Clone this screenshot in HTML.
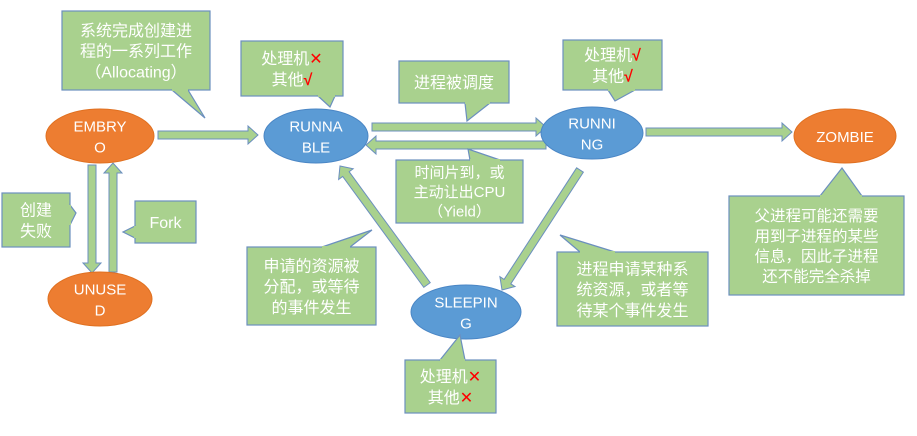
<!DOCTYPE html>
<html><head><meta charset="utf-8">
<style>
html,body{margin:0;padding:0;background:#fff;}
svg{display:block;}
text{font-family:"Liberation Sans","Noto Sans CJK SC",sans-serif;fill:#fff;}
</style></head>
<body>
<svg id="d" width="917" height="436" viewBox="0 0 917 436">
</svg>
<script>
const svg=document.getElementById('d');
const NS='http://www.w3.org/2000/svg';
const G='#a9d18e', B='#6b8fbf';
function el(tag,attrs,parent){const e=document.createElementNS(NS,tag);for(const k in attrs)e.setAttribute(k,attrs[k]);(parent||svg).appendChild(e);return e;}
function arrow(name,x1,y1,x2,y2){
  const dx=x2-x1,dy=y2-y1,L=Math.hypot(dx,dy),ux=dx/L,uy=dy/L,px=-uy,py=ux;
  const w=4,hw=9,hl=10;
  const bx=x2-ux*hl,by=y2-uy*hl;
  const pts=[[x1+px*w,y1+py*w],[bx+px*w,by+py*w],[bx+px*hw,by+py*hw],[x2,y2],[bx-px*hw,by-py*hw],[bx-px*w,by-py*w],[x1-px*w,y1-py*w]];
  const p=el('polygon',{points:pts.map(a=>a.join(',')).join(' '),fill:G,stroke:B,'stroke-width':1});
  
  
}
function state(name,cx,cy,rx,ry,color,lines){
  const g=el('g',{});
  
  
  el('ellipse',{cx,cy,rx,ry,fill:color,stroke:color==='#ed7d31'?'#e07020':'#4a86c5','stroke-width':1},g);
  lines.forEach((t,i)=>{const tx=el('text',{x:cx,y:cy+(i-(lines.length-1)/2)*21+6,'text-anchor':'middle','font-size':15},g);tx.textContent=t;});
}
function callout(name,x,y,w,h,tail,lines,fs){
  const g=el('g',{});
  
  
  el('rect',{x,y,width:w,height:h,fill:G,stroke:B,'stroke-width':1.2},g);
  el('polygon',{points:tail.map(a=>a.join(',')).join(' '),fill:G,stroke:B,'stroke-width':1.2},g);
  const a=tail[0],c=tail[2];
  el('line',{x1:a[0],y1:a[1],x2:c[0],y2:c[1],stroke:G,'stroke-width':2},g);
  const lh=fs*1.3;
  lines.forEach((t,i)=>{const tx=el('text',{x:x+w/2,y:y+h/2+(i-(lines.length-1)/2)*lh+fs*0.38,'text-anchor':'middle','font-size':fs},g);tx.innerHTML=t;});
}
arrow('arrow-embryo-runnable',158,135,258,135);
arrow('arrow-runnable-running',372,127,546,127);
arrow('arrow-running-runnable',546,145,366,145);
arrow('arrow-running-zombie',646,132,792,132);
arrow('arrow-embryo-unused',92,165,92,273);
arrow('arrow-unused-embryo',113,272,113,163);
arrow('arrow-running-sleeping',580,170,502,290);
arrow('arrow-sleeping-runnable',427,285,340,166);
state('embryo-state',100,136,54,27,'#ed7d31',['EMBRY','O']);
state('runnable-state',316,136,52,27,'#5b9bd5',['RUNNA','BLE']);
state('running-state',592,133,51,26,'#5b9bd5',['RUNNI','NG']);
state('zombie-state',845,136,51,27,'#ed7d31',['ZOMBIE']);
state('unused-state',100,299,52,27,'#ed7d31',['UNUSE','D']);
state('sleeping-state',466,312,55,27,'#5b9bd5',['SLEEPIN','G']);
const X='<tspan style="fill:#ff0000">✕</tspan>', V='<tspan style="fill:#ff0000;font-weight:bold">√</tspan>';
callout('allocating-callout',62,11,148,79,[[172,90],[205,118],[188,90]],['系统完成创建进','程的一系列工作','（Allocating）'],16);
callout('runnable-resource-callout',241,41,102,55,[[318,96],[330,107],[335,96]],['处理机'+X,'其他'+V],16);
callout('scheduled-callout',399,61,110,42,[[465,103],[467,121],[490,103]],['进程被调度'],16);
callout('running-resource-callout',563,40,99,50,[[608,90],[615,101],[635,90]],['处理机'+V,'其他'+V],16);
callout('yield-callout',396,160,127,63,[[470,160],[468,149],[500,160]],['时间片到，或','主动让出CPU','（Yield）'],15);
callout('zombie-callout',729,196,175,99,[[820,196],[842,168],[862,196]],['父进程可能还需要','用到子进程的某些','信息，因此子进程','还不能完全杀掉'],15.5);
callout('create-fail-callout',2,193,68,54,[[70,205],[76,213],[70,225]],['创建','失败'],16);
callout('fork-callout',135,201,61,42,[[135,226],[123,232],[135,238]],['Fork'],16);
callout('resource-granted-callout',247,247,129,78,[[322,247],[372,230],[350,247]],['申请的资源被','分配，或等待','的事件发生'],16);
callout('resource-request-callout',557,252,151,74,[[580,252],[560,235],[615,252]],['进程申请某种系','统资源，或者等','待某个事件发生'],16);
callout('sleeping-resource-callout',405,360,91,53,[[440,360],[460,335],[465,360]],['处理机'+X,'其他'+X],16);
</script>
</body></html>
